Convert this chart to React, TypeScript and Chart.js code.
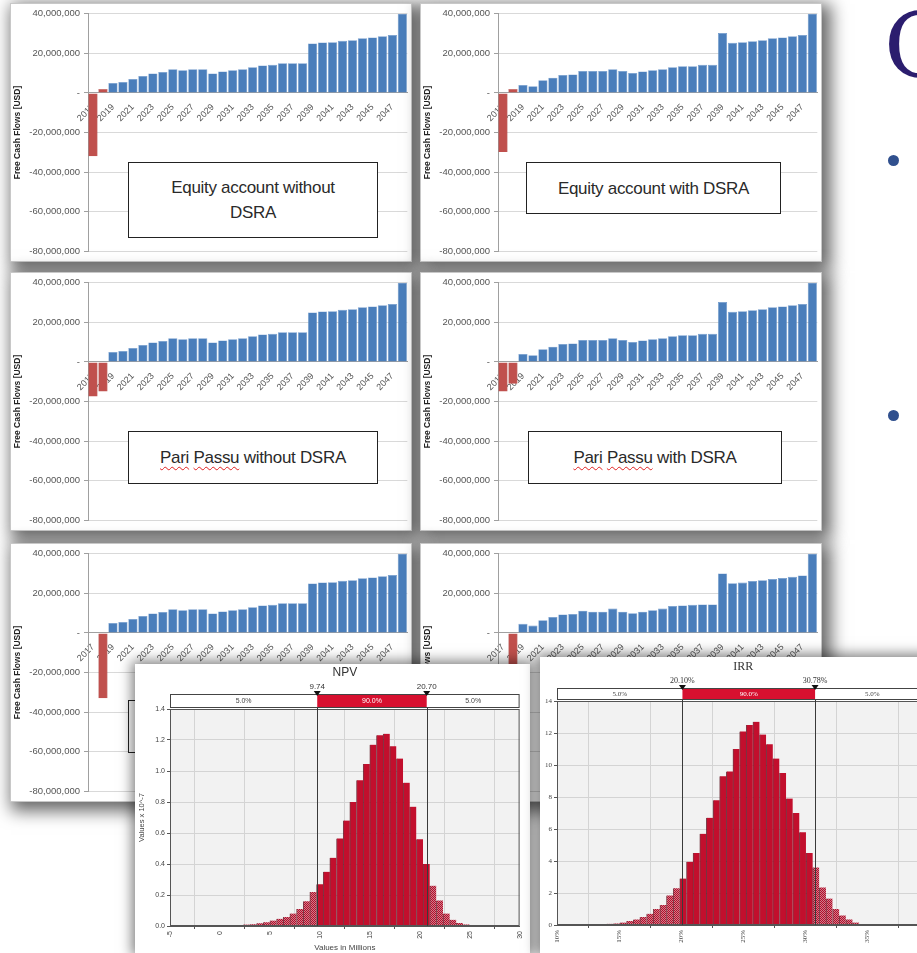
import React, { useEffect, useRef } from 'react';
import { Chart, registerables } from 'chart.js';
Chart.register(...registerables);

// ---------- data ----------
const years = ['2017','2018','2019','2020','2021','2022','2023','2024','2025','2026','2027','2028','2029','2030','2031','2032',
  '2033','2034','2035','2036','2037','2038','2039','2040','2041','2042','2043','2044','2045','2046','2047','2048'];

const equityNoDsra = [-32.0e6, 2.0e6, 5.0e6, 5.5e6, 7.0e6, 8.5e6, 9.8e6, 10.6e6, 12.0e6, 11.4e6, 12.0e6, 12.0e6, 9.8e6, 10.8e6, 11.4e6, 12.0e6,
  12.9e6, 13.9e6, 14.2e6, 15.0e6, 15.0e6, 15.0e6, 25.0e6, 25.5e6, 25.6e6, 26.3e6, 26.6e6, 27.6e6, 28.0e6, 28.6e6, 29.2e6, 40.0e6];
const equityDsra = [-29.8e6, 2.0e6, 4.0e6, 3.4e6, 6.4e6, 7.7e6, 9.0e6, 9.3e6, 11.1e6, 11.0e6, 11.1e6, 12.0e6, 11.1e6, 10.1e6, 10.8e6, 11.4e6,
  12.0e6, 12.9e6, 13.4e6, 13.5e6, 14.2e6, 14.2e6, 30.2e6, 25.3e6, 25.6e6, 26.1e6, 26.6e6, 27.6e6, 28.0e6, 28.6e6, 29.2e6, 40.0e6];
const pariPassuNoDsra = [-17.5e6, -15.0e6, 5.0e6, 5.5e6, 7.0e6, 8.5e6, 9.8e6, 10.6e6, 12.0e6, 11.4e6, 12.0e6, 12.0e6, 9.8e6, 10.8e6, 11.4e6, 12.0e6,
  12.9e6, 13.9e6, 14.2e6, 15.0e6, 15.0e6, 15.0e6, 25.0e6, 25.5e6, 25.6e6, 26.3e6, 26.6e6, 27.6e6, 28.0e6, 28.6e6, 29.2e6, 40.0e6];
const pariPassuDsra = [-15.0e6, -11.0e6, 4.0e6, 3.4e6, 6.4e6, 7.7e6, 9.0e6, 9.3e6, 11.1e6, 11.0e6, 11.1e6, 12.0e6, 11.1e6, 10.1e6, 10.8e6, 11.4e6,
  12.0e6, 12.9e6, 13.4e6, 13.5e6, 14.2e6, 14.2e6, 30.2e6, 25.3e6, 25.6e6, 26.1e6, 26.6e6, 27.6e6, 28.0e6, 28.6e6, 29.2e6, 40.0e6];
const thirdNoDsra = [0, -33.0e6, 5.0e6, 5.5e6, 7.0e6, 8.5e6, 9.8e6, 10.6e6, 12.0e6, 11.4e6, 12.0e6, 12.0e6, 9.8e6, 10.8e6, 11.4e6, 12.0e6,
  12.9e6, 13.9e6, 14.2e6, 15.0e6, 15.0e6, 15.0e6, 25.0e6, 25.5e6, 25.6e6, 26.3e6, 26.6e6, 27.6e6, 28.0e6, 28.6e6, 29.2e6, 40.0e6];
const thirdDsra = [0, -30.0e6, 4.6e6, 3.7e6, 6.4e6, 8.0e6, 9.3e6, 9.6e6, 11.2e6, 10.7e6, 10.7e6, 12.3e6, 10.7e6, 9.9e6, 10.7e6, 11.5e6,
  12.3e6, 13.6e6, 13.9e6, 14.2e6, 14.4e6, 14.4e6, 30.0e6, 25.1e6, 25.4e6, 26.2e6, 26.6e6, 27.2e6, 27.7e6, 28.3e6, 29.0e6, 40.0e6];

const npvBins = [-4.67, -4.0, -3.33, -2.67, -2.0, -1.33, -0.67, 0, 0.67, 1.33, 2.0, 2.67, 3.33, 4.0, 4.67, 5.33, 6.0, 6.67, 7.33, 8.0,
  8.67, 9.33, 10.0, 10.67, 11.33, 12.0, 12.67, 13.33, 14.0, 14.67, 15.33, 16.0, 16.67, 17.33, 18.0, 18.67, 19.33, 20.0, 20.67, 21.33,
  22.0, 22.67, 23.33, 24.0, 24.67, 25.33, 26.0, 26.67];
const npvDensity = [0.003, 0.003, 0.003, 0.003, 0.003, 0.003, 0.004, 0.004, 0.005, 0.006, 0.007, 0.009, 0.012, 0.017, 0.024, 0.035, 0.047, 0.058, 0.08, 0.11,
  0.16, 0.22, 0.27, 0.35, 0.44, 0.565, 0.68, 0.80, 0.94, 1.045, 1.17, 1.23, 1.24, 1.16, 1.08, 0.925, 0.77, 0.56, 0.40, 0.26,
  0.165, 0.08, 0.04, 0.02, 0.01, 0.005, 0.003, 0.002];
const npvMarks = [9.74, 20.7];
const npvMarkLabels = ['9.74', '20.70'];

const irrBins = [10.52, 11.06, 11.59, 12.13, 12.66, 13.2, 13.73, 14.27, 14.8, 15.34, 15.87, 16.41, 16.94, 17.48, 18.01, 18.55, 19.08, 19.62,
  20.15, 20.69, 21.22, 21.76, 22.29, 22.83, 23.36, 23.9, 24.43, 24.97, 25.5, 26.04, 26.57, 27.11, 27.64, 28.18, 28.71, 29.25, 29.78,
  30.32, 30.85, 31.39, 31.92, 32.46, 32.99, 33.53, 34.06, 34.6, 35.13];
const irrDensity = [0.02, 0.02, 0.03, 0.03, 0.04, 0.05, 0.06, 0.08, 0.1, 0.15, 0.25, 0.35, 0.5, 0.7, 1.0, 1.25, 1.85, 2.3,
  2.9, 3.95, 4.5, 5.7, 6.7, 7.8, 9.3, 9.6, 11.0, 12.1, 12.5, 12.7, 11.9, 11.3, 10.4, 9.5, 7.9, 7.0, 5.8,
  4.5, 3.6, 2.35, 1.65, 1.0, 0.6, 0.35, 0.15, 0.07, 0.03];
const irrMarks = [20.1, 30.78];
const irrMarkLabels = ['20.10%', '30.78%'];
const bandLabels = ['5.0%', '90.0%', '5.0%'];

// ---------- styles ----------
const SANS = "'Liberation Sans', Arial, sans-serif";
const NARROW = "'Liberation Sans Narrow', 'Liberation Sans', Arial, sans-serif";
const SERIF = "'Liberation Serif', 'Times New Roman', serif";
const BLUE = '#4a7ebb';
const RED = '#c0504d';
const SHADOW = '5px 5px 16px 4px rgba(0,0,0,0.6)';

const fmtMoney = (v: number) => (v === 0 ? '-' : Number(v).toLocaleString('en-US'));

function BarPanel({ left, top, values, box }: { left: number; top: number; values: number[]; box?: { left: number; top: number; width: number; height: number; content: React.ReactNode } }) {
  const ref = useRef<HTMLCanvasElement>(null);
  useEffect(() => {
    const chart = new Chart(ref.current as HTMLCanvasElement, {
      type: 'bar',
      data: {
        labels: years,
        datasets: [{
          data: values,
          backgroundColor: values.map((_, i) => (i < 2 ? RED : BLUE)),
          borderColor: values.map((_, i) => (i < 2 ? '#b04542' : '#6f99cc')),
          borderWidth: { left: 0.6, right: 0.6, top: 0.6, bottom: 0 } as any,
          barPercentage: 0.92,
          categoryPercentage: 1,
        }],
      },
      options: {
        animation: false,
        responsive: false,
        layout: { padding: { top: 6, right: 1, bottom: 4, left: 0 } },
        plugins: { legend: { display: false }, tooltip: { enabled: false } },
        scales: {
          x: {
            position: { y: 0 } as any,
            grid: { display: false },
            border: { display: true, color: '#a0a0a0' },
            ticks: {
              autoSkip: false, maxRotation: 45, minRotation: 45, padding: 1,
              color: '#555', font: { size: 9, family: SANS },
              callback: (_v: any, i: number) => (i % 2 === 0 ? years[i] : ''),
            },
          },
          y: {
            min: -80e6, max: 40e6,
            ticks: { stepSize: 20e6, color: '#555', padding: 4, font: { size: 9.5, family: SANS }, callback: (v: any) => fmtMoney(Number(v)) },
            grid: { color: '#d9d9d9', tickLength: 4, tickColor: '#a0a0a0' },
            border: { color: '#a0a0a0' },
            title: { display: true, text: 'Free Cash Flows [USD]', color: '#222', padding: 2, font: { size: 8.5, weight: 'bold', family: SANS } },
            afterFit: (s: any) => { s.width = 77; },
          },
        },
      },
    });
    return () => chart.destroy();
  }, [values]);
  return (
    <div style={{ position: 'absolute', left, top, width: 402, height: 259, background: '#fff', border: '1px solid #c8c8c8', boxSizing: 'border-box', boxShadow: SHADOW }}>
      <canvas ref={ref} width={400} height={257} style={{ display: 'block' }} />
      {box && (
        <div style={{
          position: 'absolute', left: box.left, top: box.top, width: box.width, height: box.height, boxSizing: 'border-box',
          border: '1.5px solid #222', background: '#fff', display: 'flex', alignItems: 'center', justifyContent: 'center',
          textAlign: 'center', fontFamily: NARROW, fontSize: 17, lineHeight: '25px', color: '#2a2a2a', letterSpacing: '-0.3px',
        }}>{box.content}</div>
      )}
    </div>
  );
}

function makeHatch(): CanvasPattern | string {
  const c = document.createElement('canvas');
  c.width = 4; c.height = 4;
  const g = c.getContext('2d');
  if (!g) return '#c84a5e';
  g.fillStyle = '#b00f2b';
  g.fillRect(0, 0, 4, 4);
  g.fillStyle = 'rgba(255,255,255,0.45)';
  for (let y = 0; y < 4; y++) for (let x = 0; x < 4; x++) if ((x + y) % 2 === 0) g.fillRect(x, y, 1, 1);
  return g.createPattern(c, 'repeat') || '#c84a5e';
}

type HistProps = {
  left: number; top: number; width: number; height: number;
  bins: number[]; density: number[]; marks: number[]; markLabels: string[];
  xMin: number; xMax: number; xStep: number; xSuffix: string; xTitle?: string;
  yMax: number; yStep: number; yDecimals: number; yTitle?: string;
  title: string; family: string; yWidth: number; xHeight: number; padTop: number; padRight: number;
  titleGap: number; bandGap: number;
};

function Histogram(p: HistProps) {
  const ref = useRef<HTMLCanvasElement>(null);
  useEffect(() => {
    const hatch = makeHatch();
    const solid = '#c20f2d';
    const bandPlugin = {
      id: 'band',
      beforeDraw(chart: any) {
        const { ctx, chartArea: a } = chart;
        ctx.save();
        ctx.fillStyle = '#f2f2f2';
        ctx.fillRect(a.left, a.top, a.right - a.left, a.bottom - a.top);
        ctx.restore();
      },
      afterDatasetsDraw(chart: any) {
        const { ctx, chartArea: a } = chart;
        const xs = chart.scales.x;
        const x1 = xs.getPixelForValue(p.marks[0]);
        const x2 = xs.getPixelForValue(p.marks[1]);
        const bTop = a.top - p.bandGap;
        const bH = p.bandGap - 2;
        ctx.save();
        ctx.strokeStyle = '#555';
        ctx.lineWidth = 1;
        ctx.strokeRect(a.left + 0.5, a.top + 0.5, a.right - a.left - 1, a.bottom - a.top - 1);
        ctx.strokeStyle = '#3a3a3a';
        [x1, x2].forEach((px: number) => {
          ctx.beginPath();
          ctx.moveTo(Math.round(px) + 0.5, bTop);
          ctx.lineTo(Math.round(px) + 0.5, a.bottom);
          ctx.stroke();
        });
        ctx.fillStyle = '#fff';
        ctx.fillRect(a.left, bTop, a.right - a.left, bH);
        ctx.fillStyle = '#d7102f';
        ctx.fillRect(x1, bTop, x2 - x1, bH);
        ctx.strokeStyle = '#444';
        ctx.strokeRect(a.left + 0.5, bTop + 0.5, a.right - a.left - 1, bH);
        ctx.font = `7px ${p.family}`;
        ctx.textAlign = 'center';
        ctx.textBaseline = 'middle';
        const cy = bTop + bH / 2 + 0.5;
        ctx.fillStyle = '#444';
        ctx.fillText(bandLabels[0], (a.left + x1) / 2, cy);
        ctx.fillText(bandLabels[2], (x2 + a.right) / 2, cy);
        ctx.fillStyle = '#fff';
        ctx.fillText(bandLabels[1], (x1 + x2) / 2, cy);
        ctx.fillStyle = '#111';
        [x1, x2].forEach((px: number) => {
          ctx.beginPath();
          ctx.moveTo(px - 3.5, bTop - 3);
          ctx.lineTo(px + 3.5, bTop - 3);
          ctx.lineTo(px, bTop + 2);
          ctx.closePath();
          ctx.fill();
        });
        ctx.font = `8px ${p.family}`;
        ctx.fillStyle = '#333';
        ctx.textBaseline = 'alphabetic';
        ctx.fillText(p.markLabels[0], x1, bTop - 5);
        ctx.fillText(p.markLabels[1], x2, bTop - 5);
        ctx.font = `12px ${p.family}`;
        ctx.fillStyle = '#333';
        ctx.textBaseline = 'middle';
        ctx.fillText(p.title, (a.left + a.right) / 2, a.top - p.titleGap);
        ctx.restore();
      },
    };
    const chart = new Chart(ref.current as HTMLCanvasElement, {
      type: 'bar',
      data: {
        datasets: [{
          data: p.bins.map((b, i) => ({ x: b, y: p.density[i] })) as any,
          backgroundColor: p.bins.map((b) => (b >= p.marks[0] && b <= p.marks[1] ? solid : hatch)) as any,
          borderColor: 'rgba(80,0,16,0.75)',
          borderWidth: { left: 1, right: 0, top: 0, bottom: 0 } as any,
          barPercentage: 1,
          categoryPercentage: 1,
        }],
      },
      options: {
        animation: false,
        responsive: false,
        layout: { padding: { top: p.padTop, right: p.padRight, bottom: 0, left: 0 } },
        plugins: { legend: { display: false }, tooltip: { enabled: false } },
        scales: {
          x: {
            type: 'linear', min: p.xMin, max: p.xMax, offset: false,
            grid: { color: '#d4d4d4', tickLength: 3, tickColor: '#555' },
            border: { color: '#555' },
            ticks: {
              stepSize: p.xStep, autoSkip: false, maxRotation: 90, minRotation: 90, padding: 2,
              color: '#444', font: { size: 7, family: p.family },
              callback: (v: any) => `${v}${p.xSuffix}`,
            },
            title: { display: !!p.xTitle, text: p.xTitle || '', color: '#444', padding: 0, font: { size: 8, family: p.family } },
            afterFit: (s: any) => { s.height = p.xHeight; },
          },
          y: {
            min: 0, max: p.yMax,
            grid: { color: '#d4d4d4', tickLength: 3, tickColor: '#555' },
            border: { color: '#555' },
            ticks: { stepSize: p.yStep, padding: 2, color: '#444', font: { size: 7, family: p.family }, callback: (v: any) => Number(v).toFixed(p.yDecimals) },
            title: { display: !!p.yTitle, text: p.yTitle || '', color: '#444', padding: 2, font: { size: 7.5, family: p.family } },
            afterFit: (s: any) => { s.width = p.yWidth; },
          },
        },
      },
      plugins: [bandPlugin],
    });
    return () => chart.destroy();
  }, []);
  return (
    <div style={{ position: 'absolute', left: p.left, top: p.top, width: p.width, height: p.height, background: '#fff', boxShadow: '0 0 12px 3px rgba(0,0,0,0.5)' }}>
      <canvas ref={ref} width={p.width} height={p.height} style={{ display: 'block' }} />
    </div>
  );
}

const wavy: React.CSSProperties = { textDecoration: 'underline wavy #e02020', textDecorationThickness: '1px', textUnderlineOffset: '3px' };

export default function App() {
  return (
    <div style={{ position: 'fixed', left: 0, top: 0, width: 917, height: 953, overflow: 'hidden', background: '#fff' }}>
      <BarPanel left={10} top={3} values={equityNoDsra}
        box={{ left: 117, top: 158, width: 250, height: 76, content: <span>Equity account without<br />DSRA</span> }} />
      <BarPanel left={420} top={3} values={equityDsra}
        box={{ left: 105, top: 158, width: 255, height: 52, content: <span>Equity account with DSRA</span> }} />
      <BarPanel left={10} top={272} values={pariPassuNoDsra}
        box={{ left: 117, top: 158, width: 250, height: 53, content: <span><span style={wavy}>Pari</span> <span style={wavy}>Passu</span> without DSRA</span> }} />
      <BarPanel left={420} top={272} values={pariPassuDsra}
        box={{ left: 107, top: 158, width: 254, height: 53, content: <span><span style={wavy}>Pari</span> <span style={wavy}>Passu</span> with DSRA</span> }} />
      <BarPanel left={10} top={543} values={thirdNoDsra}
        box={{ left: 117, top: 156, width: 250, height: 53, content: <span /> }} />
      <BarPanel left={420} top={543} values={thirdDsra} />

      <div style={{ position: 'absolute', left: 884, top: -9, fontFamily: "'DejaVu Serif', serif", fontSize: 90, lineHeight: '110px', color: '#2b1d6e' }}>Q</div>
      <div style={{ position: 'absolute', left: 888, top: 155, width: 11, height: 11, borderRadius: '50%', background: '#30508e' }} />
      <div style={{ position: 'absolute', left: 888, top: 410, width: 11, height: 11, borderRadius: '50%', background: '#30508e' }} />

      <Histogram left={135} top={664} width={395} height={289}
        bins={npvBins} density={npvDensity} marks={npvMarks} markLabels={npvMarkLabels}
        xMin={-5} xMax={30} xStep={5} xSuffix="" xTitle="Values in Millions"
        yMax={1.4} yStep={0.2} yDecimals={1} yTitle="Values x 10^-7"
        title="NPV" family={SANS} yWidth={35} xHeight={27} padTop={45} padRight={5} titleGap={36} bandGap={15} />
      <Histogram left={540} top={657} width={400} height={296}
        bins={irrBins} density={irrDensity} marks={irrMarks} markLabels={irrMarkLabels}
        xMin={10} xMax={40} xStep={5} xSuffix="%"
        yMax={14} yStep={2} yDecimals={0}
        title="IRR" family={SERIF} yWidth={17} xHeight={28} padTop={44} padRight={10} titleGap={34} bandGap={13} />
    </div>
  );
}
